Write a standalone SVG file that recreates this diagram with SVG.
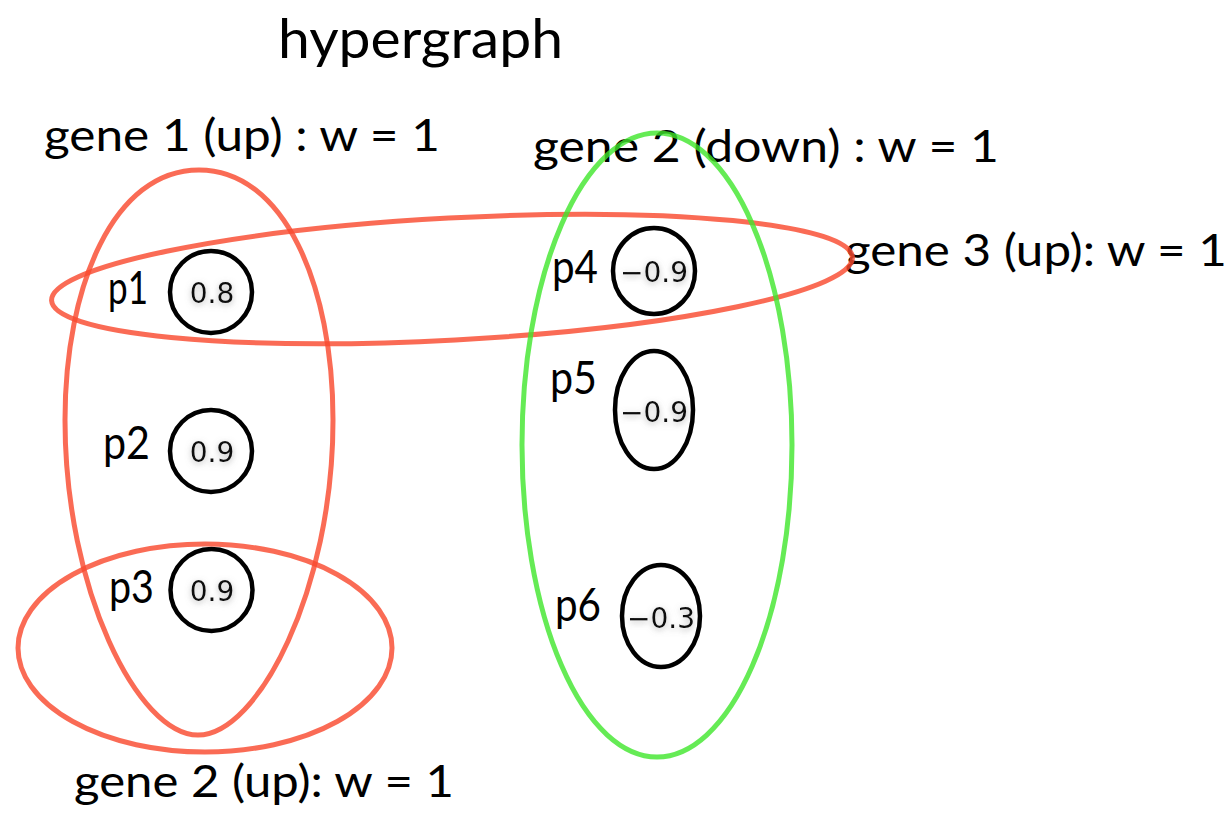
<svg xmlns="http://www.w3.org/2000/svg" width="1232" height="813" viewBox="0 0 1232 813">
  <defs>
    <style>
      .lbl { font-family: Lato, "Open Sans", "Liberation Sans", sans-serif; font-size: 44px; fill: #000; }
      .title { font-family: Lato, "Open Sans", "Liberation Sans", sans-serif; font-size: 54px; fill: #000; }
      .plbl { font-family: Lato, "Open Sans", "Liberation Sans", sans-serif; font-size: 47px; fill: #000; }
      .val { font-family: "DejaVu Sans", "Liberation Sans", sans-serif; font-size: 28px; fill: #111; text-anchor: middle; filter: url(#glow); }
      .node { fill: #fff; stroke: #000; stroke-width: 4.5; }
      .edge-red { fill: none; stroke: #f94a30; stroke-opacity: 0.82; stroke-width: 5; }
      .edge-green { fill: none; stroke: #3ee62a; stroke-opacity: 0.8; stroke-width: 5; }
    </style>
    <filter id="glow" x="-30%" y="-50%" width="160%" height="200%">
      <feGaussianBlur in="SourceAlpha" stdDeviation="3" result="b"/>
      <feOffset in="b" dx="0" dy="2" result="o"/>
      <feFlood flood-color="#777" flood-opacity="0.55"/>
      <feComposite in2="o" operator="in" result="s"/>
      <feMerge><feMergeNode in="s"/><feMergeNode in="SourceGraphic"/></feMerge>
    </filter>
  </defs>
  <rect width="1232" height="813" fill="#fff"/>

  <text class="title" x="278" y="58" textLength="285" lengthAdjust="spacingAndGlyphs">hypergraph</text>

  <g id="labels">
    <text class="lbl" x="44" y="151" textLength="396" lengthAdjust="spacingAndGlyphs">gene 1 (up) : w = 1</text>
    <text class="lbl" x="533" y="162" textLength="466" lengthAdjust="spacingAndGlyphs">gene 2 (down) : w = 1</text>
    <text class="lbl" x="845" y="266" textLength="382" lengthAdjust="spacingAndGlyphs">gene 3 (up): w = 1</text>
    <text class="lbl" x="74" y="797" textLength="380" lengthAdjust="spacingAndGlyphs">gene 2 (up): w = 1</text>
  </g>

  <g id="p1">
    <text class="plbl" x="108" y="304" textLength="40" lengthAdjust="spacingAndGlyphs">p1</text>
    <circle class="node" cx="211" cy="292" r="41"/>
    <text class="val" x="212" y="303">0.8</text>
  </g>
  <g id="p2">
    <text class="plbl" x="103" y="459" textLength="47" lengthAdjust="spacingAndGlyphs">p2</text>
    <circle class="node" cx="211" cy="451" r="41"/>
    <text class="val" x="212" y="462">0.9</text>
  </g>
  <g id="p3">
    <text class="plbl" x="109" y="603" textLength="45" lengthAdjust="spacingAndGlyphs">p3</text>
    <circle class="node" cx="211.5" cy="590" r="41"/>
    <text class="val" x="212" y="601">0.9</text>
  </g>
  <g id="p4">
    <text class="plbl" x="552" y="283" textLength="46" lengthAdjust="spacingAndGlyphs">p4</text>
    <ellipse class="node" cx="654" cy="271" rx="41" ry="43"/>
    <text class="val" x="654" y="282">−0.9</text>
  </g>
  <g id="p5">
    <text class="plbl" x="550" y="394" textLength="47" lengthAdjust="spacingAndGlyphs">p5</text>
    <ellipse class="node" cx="654" cy="410" rx="39" ry="59"/>
    <text class="val" x="654" y="422">−0.9</text>
  </g>
  <g id="p6">
    <text class="plbl" x="555" y="621" textLength="46" lengthAdjust="spacingAndGlyphs">p6</text>
    <ellipse class="node" cx="661" cy="616" rx="39" ry="51"/>
    <text class="val" x="661" y="628">−0.3</text>
  </g>

  <g id="hyperedges">
    <path id="gene1-up" class="edge-red" d="M 199 170 C 284 170 333 285 333 420 C 333 590 258 735 198 735 C 138 735 65 590 65 420 C 65 285 114 170 199 170 Z"/>
    <ellipse id="gene2-up" class="edge-red" cx="205" cy="648" rx="187" ry="104"/>
    <ellipse id="gene3-up" class="edge-red" cx="452" cy="279" rx="401" ry="61" transform="rotate(-3.1 452 279)"/>
    <ellipse id="gene2-down" class="edge-green" cx="657" cy="445" rx="135" ry="312"/>
  </g>
</svg>
